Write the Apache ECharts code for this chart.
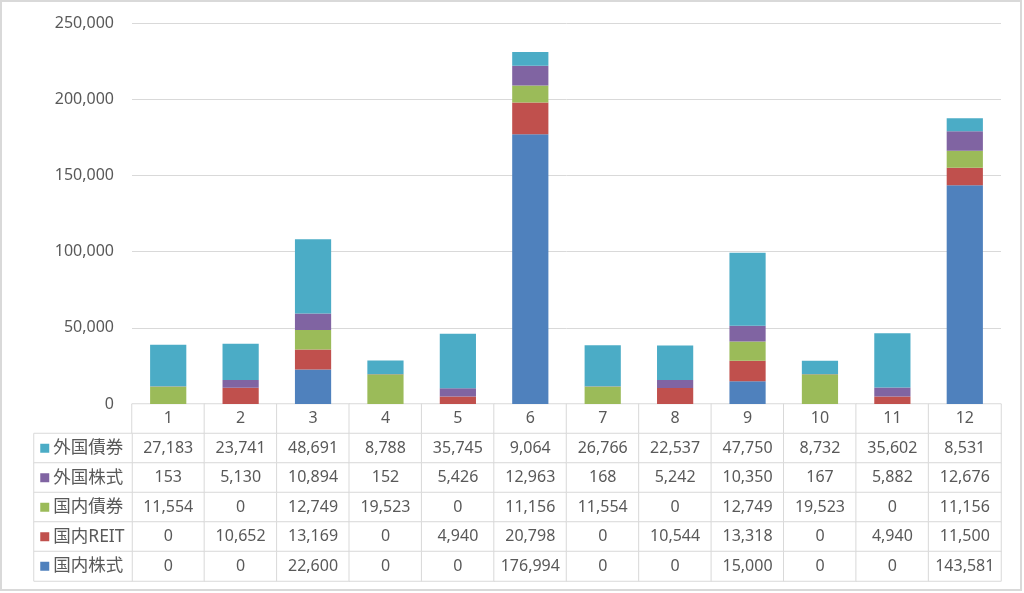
<!DOCTYPE html>
<html>
<head>
<meta charset="utf-8">
<script src="https://cdn.jsdelivr.net/npm/echarts@6/dist/echarts.min.js"></script>
<style>
  html, body { margin: 0; padding: 0; background: #fff; }
  #chart { position: absolute; left: 0; top: 0; width: 1024px; height: 593px; }
  #frame { position: absolute; left: 0; top: 0; width: 1018px; height: 587px; border: 2px solid #d9d9d9; pointer-events: none; }
</style>
</head>
<body>
<div id="chart"></div>
<div id="frame"></div>
<script>
// 横軸カテゴリ
const categories = ['1', '2', '3', '4', '5', '6', '7', '8', '9', '10', '11', '12'];

// 系列（積み上げ順：下から）
const seriesNames = ['国内株式', '国内REIT', '国内債券', '外国株式', '外国債券'];
const seriesColors = ['#4f81bd', '#c0504d', '#9bbb59', '#8064a2', '#4bacc6'];

const domesticStock = [0, 0, 22600, 0, 0, 176994, 0, 0, 15000, 0, 0, 143581];
const domesticReit = [0, 10652, 13169, 0, 4940, 20798, 0, 10544, 13318, 0, 4940, 11500];
const domesticBond = [11554, 0, 12749, 19523, 0, 11156, 11554, 0, 12749, 19523, 0, 11156];
const foreignStock = [153, 5130, 10894, 152, 5426, 12963, 168, 5242, 10350, 167, 5882, 12676];
const foreignBond = [27183, 23741, 48691, 8788, 35745, 9064, 26766, 22537, 47750, 8732, 35602, 8531];

const seriesValues = [domesticStock, domesticReit, domesticBond, foreignStock, foreignBond];

document.addEventListener('DOMContentLoaded', function() {
    initChart();
});

function fmt(v) {
    return Number(v).toLocaleString('en-US');
}

function initChart() {
    const chart = echarts.init(document.getElementById('chart'));
    const font = "'Noto Sans', 'Noto Sans CJK JP', sans-serif";
    const textColor = '#595959';
    const lineColor = '#d9d9d9';

    // 表の行：上から外国債券…国内株式（ヘッダー行を先頭に）
    const tableRows = ['header'].concat(seriesNames.slice().reverse());
    const cellData = [];
    categories.forEach(function(c, ci) {
        cellData.push([ci, 0, ci]);
        seriesNames.slice().reverse().forEach(function(name, ri) {
            const si = seriesNames.indexOf(name);
            cellData.push([ci, ri + 1, seriesValues[si][ci]]);
        });
    });

    // 凡例列
    const legendRows = seriesNames.slice().reverse();
    const legendData = legendRows.map(function(name, ri) {
        return [0, ri, seriesNames.indexOf(name)];
    });
    const rich = {};
    seriesColors.forEach(function(col, i) {
        rich['s' + i] = { backgroundColor: col, width: 9, height: 9 };
    });
    rich.t = { fontSize: 17.5, color: textColor, fontFamily: font, padding: [0, 0, 0, 4] };

    const barSeries = seriesNames.map(function(name, i) {
        return {
            name: name,
            type: 'bar',
            stack: 'total',
            barWidth: '50%',
            xAxisIndex: 0,
            yAxisIndex: 0,
            itemStyle: { color: seriesColors[i] },
            data: seriesValues[i]
        };
    });

    const option = {
        animation: false,
        textStyle: { fontFamily: font },
        grid: [
            { left: 132, right: 23, top: 23, height: 381 },
            { left: 132, right: 23, top: 404, height: 177 },
            { left: 34, width: 98, top: 433.5, height: 147.5 }
        ],
        xAxis: [
            {
                type: 'category', gridIndex: 0, data: categories,
                axisLine: { show: true, lineStyle: { color: lineColor } },
                axisTick: { show: false }, axisLabel: { show: false }
            },
            { type: 'category', gridIndex: 1, data: categories, show: false },
            { type: 'category', gridIndex: 2, data: ['凡例'], show: false }
        ],
        yAxis: [
            {
                type: 'value', gridIndex: 0, min: 0, max: 250000, interval: 50000,
                axisLine: { show: false }, axisTick: { show: false },
                axisLabel: {
                    color: textColor, fontSize: 16, margin: 18,
                    formatter: function(v) { return fmt(v); }
                },
                splitLine: { lineStyle: { color: lineColor, width: 1 } }
            },
            { type: 'category', gridIndex: 1, data: tableRows, inverse: true, show: false },
            { type: 'category', gridIndex: 2, data: legendRows, inverse: true, show: false }
        ],
        series: barSeries.concat([
            {
                name: 'table',
                type: 'heatmap',
                xAxisIndex: 1,
                yAxisIndex: 1,
                data: cellData,
                itemStyle: { color: '#fff', borderColor: lineColor, borderWidth: 1 },
                label: {
                    show: true, color: textColor, fontSize: 16, fontFamily: font,
                    formatter: function(p) {
                        if (p.value[1] === 0) return categories[p.value[2]];
                        return fmt(p.value[2]);
                    }
                },
                emphasis: { disabled: true }
            },
            {
                name: 'legend',
                type: 'heatmap',
                xAxisIndex: 2,
                yAxisIndex: 2,
                data: legendData,
                itemStyle: { color: '#fff', borderColor: lineColor, borderWidth: 1 },
                label: {
                    show: true, position: [7, '50%'], align: 'left', verticalAlign: 'middle',
                    rich: rich,
                    formatter: function(p) {
                        const i = p.value[2];
                        return '{s' + i + '|}{t|' + seriesNames[i] + '}';
                    }
                },
                emphasis: { disabled: true }
            }
        ])
    };

    chart.setOption(option);

    window.addEventListener('resize', function() {
        chart.resize();
    });
}
</script>
</body>
</html>
